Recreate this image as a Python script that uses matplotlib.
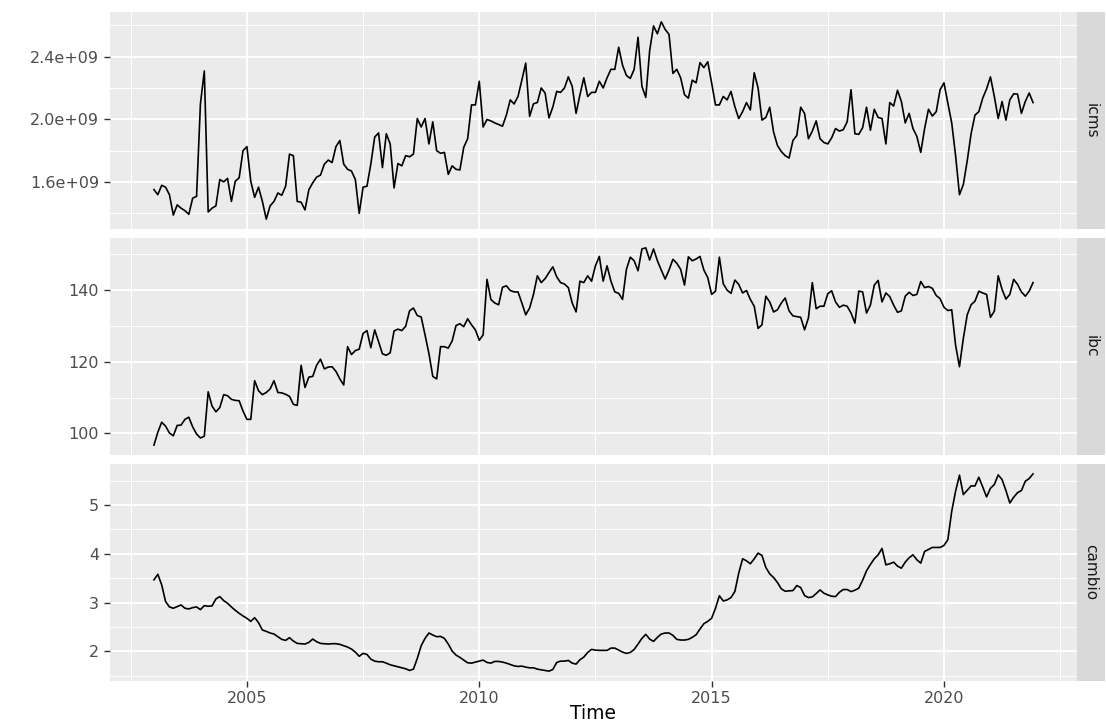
import numpy as np
import matplotlib
matplotlib.use("Agg")
import matplotlib.pyplot as plt
from matplotlib.ticker import FixedLocator, FuncFormatter

# monthly series, Jan 2003 .. Dec 2021
start_year = 2003
names = ["icms", "ibc", "cambio"]

# icms in units of 1e9
icms_bi = [
    1.552, 1.520, 1.580, 1.568, 1.520, 1.390, 1.455, 1.434, 1.418, 1.395, 1.498, 1.509,
    2.100, 2.310, 1.410, 1.434, 1.449, 1.617, 1.602, 1.624, 1.477, 1.606, 1.628, 1.801,
    1.827, 1.606, 1.503, 1.568, 1.477, 1.364, 1.449, 1.477, 1.531, 1.516, 1.574, 1.779,
    1.769, 1.477, 1.472, 1.423, 1.552, 1.596, 1.632, 1.645, 1.715, 1.741, 1.725, 1.827,
    1.866, 1.715, 1.682, 1.671, 1.617, 1.401, 1.568, 1.574, 1.715, 1.888, 1.914, 1.693,
    1.909, 1.844, 1.563, 1.719, 1.704, 1.769, 1.762, 1.779, 2.006, 1.952, 2.006, 1.844,
    1.985, 1.801, 1.784, 1.790, 1.650, 1.704, 1.682, 1.678, 1.823, 1.877, 2.093, 2.093,
    2.244, 1.952, 2.000, 1.991, 1.978, 1.968, 1.957, 2.028, 2.125, 2.099, 2.147, 2.251,
    2.360, 2.020, 2.100, 2.108, 2.201, 2.169, 2.010, 2.080, 2.179, 2.173, 2.201, 2.272,
    2.212, 2.039, 2.158, 2.266, 2.147, 2.173, 2.173, 2.244, 2.201, 2.266, 2.320, 2.320,
    2.461, 2.346, 2.281, 2.262, 2.320, 2.525, 2.212, 2.141, 2.439, 2.597, 2.547, 2.623,
    2.575, 2.543, 2.294, 2.320, 2.266, 2.158, 2.136, 2.251, 2.234, 2.363, 2.331, 2.368,
    2.234, 2.093, 2.093, 2.147, 2.125, 2.179, 2.082, 2.006, 2.050, 2.108, 2.061, 2.298,
    2.201, 1.996, 2.013, 2.078, 1.920, 1.834, 1.795, 1.769, 1.754, 1.866, 1.898, 2.078,
    2.039, 1.877, 1.926, 1.991, 1.877, 1.853, 1.844, 1.883, 1.942, 1.926, 1.935, 1.985,
    2.190, 1.909, 1.905, 1.948, 2.078, 1.931, 2.065, 2.013, 2.006, 1.844, 2.108, 2.086,
    2.186, 2.115, 1.978, 2.039, 1.942, 1.892, 1.790, 1.942, 2.065, 2.022, 2.050, 2.190,
    2.234, 2.104, 1.978, 1.769, 1.520, 1.585, 1.736, 1.909, 2.028, 2.050, 2.136, 2.195,
    2.272, 2.147, 2.006, 2.115, 1.996, 2.125, 2.164, 2.162, 2.039, 2.115, 2.169, 2.108,
]

ibc = [
    96.7, 100.3, 103.1, 102.0, 100.1, 99.3, 102.2, 102.3, 103.9, 104.5, 101.8, 99.8,
    98.7, 99.2, 111.6, 107.6, 106.0, 107.2, 110.8, 110.5, 109.5, 109.2, 109.1, 106.2,
    103.9, 103.9, 114.7, 111.9, 110.8, 111.4, 112.4, 114.7, 111.4, 111.3, 110.9, 110.3,
    108.1, 107.8, 119.0, 112.8, 115.7, 115.9, 119.0, 120.7, 118.0, 118.5, 118.6, 117.3,
    115.2, 113.5, 124.2, 122.0, 123.1, 123.5, 127.9, 128.7, 123.9, 128.9, 125.6, 122.2,
    121.8, 122.5, 128.6, 129.1, 128.7, 129.9, 134.2, 135.0, 132.9, 132.5, 127.5, 122.3,
    115.9, 115.2, 124.2, 124.2, 123.8, 125.8, 130.1, 130.6, 129.8, 132.0, 130.3, 128.9,
    126.0, 127.5, 143.0, 137.4, 136.4, 135.9, 140.8, 141.2, 139.9, 139.5, 139.5, 136.4,
    133.1, 135.0, 138.8, 144.0, 142.1, 143.2, 144.9, 146.5, 143.7, 142.1, 141.7, 140.7,
    136.4, 133.9, 142.5, 142.1, 144.0, 142.5, 146.8, 149.4, 142.5, 146.8, 142.5, 139.5,
    139.1, 137.4, 145.8, 149.2, 148.2, 145.4, 151.5, 151.8, 148.4, 151.5, 148.2, 145.6,
    143.1, 145.6, 148.6, 147.5, 145.8, 141.4, 149.3, 148.2, 148.7, 149.4, 145.6, 143.5,
    138.8, 139.7, 149.2, 141.8, 140.0, 139.1, 142.8, 141.6, 139.2, 139.9, 137.4, 135.5,
    129.3, 130.3, 138.3, 136.7, 133.9, 134.5, 136.4, 137.8, 134.2, 132.8, 132.6, 132.4,
    128.9, 132.2, 142.1, 134.8, 135.5, 135.5, 139.0, 139.8, 136.7, 135.2, 135.8, 135.5,
    133.6, 130.8, 139.7, 139.5, 133.6, 135.8, 141.4, 142.7, 136.7, 139.2, 138.2, 135.8,
    133.8, 134.2, 138.3, 139.4, 138.5, 138.8, 142.4, 140.7, 141.0, 140.5, 138.5, 137.6,
    135.2, 134.3, 134.5, 124.6, 118.6, 126.5, 133.1, 135.9, 136.9, 139.7, 139.2, 138.8,
    132.4, 134.1, 144.0, 140.2, 137.5, 138.8, 143.0, 141.6, 139.5, 138.3, 139.7, 142.1,
]

cambio = [
    3.466, 3.580, 3.363, 3.021, 2.911, 2.884, 2.918, 2.952, 2.884, 2.870, 2.897, 2.911,
    2.856, 2.938, 2.925, 2.932, 3.075, 3.123, 3.041, 2.986, 2.911, 2.842, 2.781, 2.726,
    2.678, 2.616, 2.692, 2.589, 2.438, 2.411, 2.377, 2.356, 2.301, 2.247, 2.226, 2.281,
    2.212, 2.164, 2.158, 2.151, 2.185, 2.253, 2.199, 2.164, 2.158, 2.151, 2.158, 2.158,
    2.144, 2.116, 2.089, 2.048, 1.986, 1.900, 1.960, 1.938, 1.842, 1.801, 1.788, 1.788,
    1.760, 1.726, 1.705, 1.685, 1.664, 1.644, 1.610, 1.637, 1.856, 2.116, 2.267, 2.377,
    2.336, 2.301, 2.308, 2.267, 2.151, 2.007, 1.925, 1.877, 1.822, 1.767, 1.760, 1.781,
    1.801, 1.822, 1.774, 1.760, 1.795, 1.795, 1.781, 1.760, 1.733, 1.705, 1.692, 1.699,
    1.678, 1.664, 1.664, 1.637, 1.623, 1.610, 1.596, 1.630, 1.774, 1.801, 1.801, 1.815,
    1.760, 1.740, 1.829, 1.884, 1.979, 2.041, 2.027, 2.021, 2.021, 2.021, 2.068, 2.068,
    2.027, 1.986, 1.959, 1.979, 2.041, 2.151, 2.267, 2.349, 2.253, 2.205, 2.288, 2.356,
    2.377, 2.377, 2.329, 2.247, 2.233, 2.233, 2.247, 2.288, 2.342, 2.459, 2.568, 2.616,
    2.678, 2.884, 3.140, 3.034, 3.055, 3.103, 3.226, 3.603, 3.897, 3.856, 3.795, 3.897,
    4.014, 3.966, 3.719, 3.589, 3.514, 3.411, 3.281, 3.233, 3.240, 3.247, 3.349, 3.308,
    3.144, 3.103, 3.116, 3.185, 3.260, 3.192, 3.158, 3.130, 3.123, 3.212, 3.267, 3.267,
    3.226, 3.253, 3.295, 3.459, 3.651, 3.781, 3.897, 3.979, 4.110, 3.774, 3.795, 3.829,
    3.747, 3.705, 3.829, 3.918, 3.979, 3.877, 3.808, 4.048, 4.089, 4.130, 4.130, 4.130,
    4.171, 4.288, 4.870, 5.281, 5.610, 5.212, 5.301, 5.390, 5.390, 5.568, 5.370, 5.164,
    5.342, 5.418, 5.616, 5.521, 5.295, 5.041, 5.158, 5.253, 5.295, 5.486, 5.541, 5.637,
]

x_major = [2005, 2010, 2015, 2020]
x_minor = [2002.5, 2007.5, 2012.5, 2017.5, 2022.5]
y_major = {
    "icms": [1.6e9, 2.0e9, 2.4e9],
    "ibc": [100, 120, 140],
    "cambio": [2, 3, 4, 5],
}
y_minor = {
    "icms": [1.4e9, 1.8e9, 2.2e9, 2.6e9],
    "ibc": [90, 110, 130, 150],
    "cambio": [1.5, 2.5, 3.5, 4.5, 5.5],
}

series = {
    "icms": np.array(icms_bi) * 1e9,
    "ibc": np.array(ibc),
    "cambio": np.array(cambio),
}
t = start_year + np.arange(len(icms_bi)) / 12.0

plt.rcParams["font.family"] = ["DejaVu Sans"]

W, H = 1106, 722
fig = plt.figure(figsize=(W / 100, H / 100), dpi=100)

panel_bg = "#EBEBEB"
strip_bg = "#D9D9D9"
# panel boxes in pixels (top, bottom)
rows = [(12, 229), (238, 455), (464, 681)]
x0, x1 = 110, 1077
strip_w = 28

for k, name in enumerate(names):
    top, bot = rows[k]
    ax = fig.add_axes([x0 / W, 1 - bot / H, (x1 - x0) / W, (bot - top) / H])
    ax.set_facecolor(panel_bg)
    for s in ax.spines.values():
        s.set_visible(False)

    ax.plot(t, series[name], color="black", lw=1.2, zorder=3)
    ax.margins(x=0.05, y=0.05)

    ax.xaxis.set_major_locator(FixedLocator(x_major))
    ax.xaxis.set_minor_locator(FixedLocator(x_minor))
    ax.yaxis.set_major_locator(FixedLocator(y_major[name]))
    ax.yaxis.set_minor_locator(FixedLocator(y_minor[name]))
    ax.grid(which="major", color="white", lw=1.4, zorder=0)
    ax.grid(which="minor", color="white", lw=0.7, zorder=0)
    ax.set_axisbelow(True)

    ax.tick_params(axis="y", which="major", length=4, width=1, color="#333333",
                   labelsize=11.5, labelcolor="#4D4D4D", pad=4)
    ax.tick_params(which="minor", length=0)
    if name == "icms":
        ax.yaxis.set_major_formatter(FuncFormatter(lambda v, p: f"{v:.1e}"))
    else:
        ax.yaxis.set_major_formatter(FuncFormatter(lambda v, p: f"{v:g}"))

    if k < 2:
        ax.tick_params(axis="x", which="major", length=0, labelbottom=False)
    else:
        ax.tick_params(axis="x", which="major", length=4, width=1, color="#333333",
                       labelsize=11.5, labelcolor="#4D4D4D", pad=3)
        ax.set_xlabel("Time", fontsize=13.5, color="black", labelpad=-1)

    # facet strip on the right
    sax = fig.add_axes([x1 / W, 1 - bot / H, strip_w / W, (bot - top) / H])
    sax.set_facecolor(strip_bg)
    sax.set_xticks([])
    sax.set_yticks([])
    for s in sax.spines.values():
        s.set_visible(False)
    sax.text(0.5, 0.5, name, rotation=270, ha="center", va="center",
             fontsize=11, color="#1A1A1A", transform=sax.transAxes)

fig.savefig("out.png", dpi=100, facecolor="white")
